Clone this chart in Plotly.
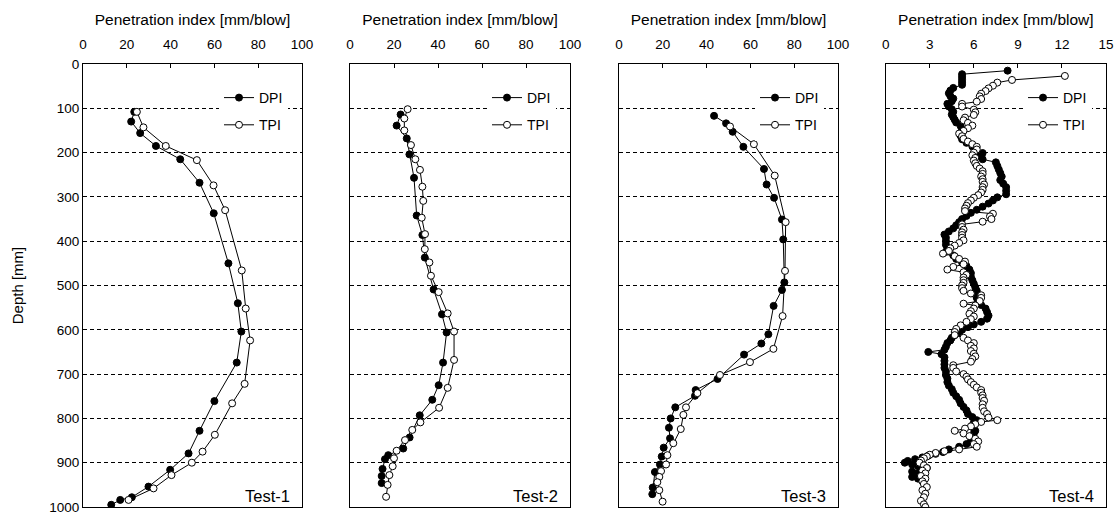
import plotly.graph_objects as go

# ---------------- data ----------------
# Test-1
t1_dpi_depth = [108, 130, 156, 185, 215, 268, 337, 450, 540, 604, 674, 761, 828, 879, 916, 954, 978, 984, 995]
t1_dpi_pi = [23.4, 22.0, 26.1, 33.3, 44.4, 53.2, 59.7, 66.4, 70.7, 72.3, 70.2, 60.0, 53.2, 48.2, 39.8, 29.9, 22.3, 17.0, 12.9]
t1_tpi_depth = [108, 143, 185, 217, 274, 330, 466, 552, 624, 722, 766, 837, 875, 900, 928, 958, 984]
t1_tpi_pi = [24.6, 27.6, 37.8, 52.0, 59.6, 64.9, 72.5, 74.3, 76.3, 73.8, 68.1, 60.2, 54.6, 49.7, 40.4, 32.2, 20.8]

# Test-2
t2_dpi_depth = [114, 139, 168, 204, 257, 342, 386, 437, 509, 565, 606, 674, 725, 758, 793, 843, 868, 883, 892, 914, 930, 946]
t2_dpi_pi = [23.0, 21.2, 25.8, 27.0, 29.1, 30.3, 32.9, 34.0, 38.0, 41.8, 43.9, 42.3, 40.3, 37.4, 31.7, 27.1, 24.2, 17.4, 15.9, 14.8, 14.4, 14.4]
t2_tpi_depth = [102, 123, 150, 183, 215, 239, 277, 309, 347, 384, 418, 448, 478, 515, 563, 604, 668, 731, 776, 809, 826, 849, 873, 890, 908, 928, 950, 977]
t2_tpi_pi = [26.2, 24.7, 24.7, 27.7, 29.7, 31.8, 32.9, 33.3, 32.6, 34.1, 34.0, 36.1, 36.8, 40.3, 44.4, 47.3, 47.3, 44.4, 40.5, 32.0, 28.3, 25.0, 21.2, 20.0, 19.4, 17.9, 17.1, 16.4]

# Test-3
t3_dpi_depth = [117, 134, 153, 187, 237, 272, 302, 351, 396, 493, 510, 546, 610, 631, 656, 711, 736, 749, 775, 800, 821, 845, 866, 886, 904, 921, 956, 971]
t3_dpi_pi = [43.4, 48.9, 51.9, 56.8, 66.2, 67.4, 70.8, 74.4, 75.0, 75.5, 74.4, 70.6, 68.2, 65.0, 57.1, 45.0, 35.0, 34.7, 25.7, 23.6, 22.8, 23.3, 20.4, 19.5, 18.7, 16.4, 15.4, 15.2]
t3_tpi_depth = [141, 181, 252, 357, 467, 569, 643, 673, 702, 743, 775, 792, 824, 856, 883, 904, 919, 932, 944, 962, 988]
t3_tpi_pi = [50.7, 61.6, 71.1, 76.1, 75.8, 74.7, 70.5, 59.8, 46.1, 35.8, 30.6, 29.4, 28.2, 24.8, 22.1, 21.5, 19.2, 18.4, 17.5, 18.4, 19.9]

# Test-4
t4_dpi_depth = [15, 23, 29, 35, 41, 47, 54, 60, 66, 72, 78, 84, 90, 96, 102, 108, 114, 120, 126, 132,
                 140, 148, 155, 162, 170, 178, 186, 194, 201, 208, 215, 222, 230, 238, 246, 254, 262, 270, 278, 286,
                 294, 301, 308, 315, 322, 329, 336, 343, 350, 357, 364, 371, 378, 385, 392, 400, 408, 416, 424, 432,
                 440, 448, 456, 464, 472, 480, 488, 496, 504, 512, 520, 528, 536, 544, 552, 560, 568, 575, 582, 588,
                 594, 600, 606, 612, 618, 624, 630, 638, 645, 650, 655, 662, 670, 678, 686, 694, 702, 710, 718, 726,
                 734, 742, 750, 758, 766, 774, 782, 790, 797, 804, 810, 816, 822, 828, 834, 840, 846, 852, 858, 864,
                 870, 876, 880, 884, 888, 892, 896, 900, 904, 908, 912, 916, 920, 924, 928, 932, 936, 940]
t4_dpi_pi = [8.3, 5.2, 5.2, 5.2, 5.2, 5.2, 4.6, 4.4, 4.3, 4.4, 4.6, 4.5, 4.2, 4.3, 4.5, 4.6, 4.5, 4.6, 4.7, 4.8,
             5.1, 5.2, 5.2, 5.1, 5.2, 5.5, 5.9, 6.1, 6.6, 6.4, 6.6, 7.5, 7.6, 7.7, 7.8, 7.9, 7.8, 8.0, 8.2, 8.2,
             8.2, 7.6, 7.3, 7.0, 6.6, 6.2, 5.8, 5.5, 5.2, 5.0, 4.8, 4.6, 4.3, 4.0, 4.1, 4.1, 4.1, 4.2, 4.1, 4.6,
             4.8, 5.2, 5.5, 5.7, 5.8, 5.8, 5.9, 6.0, 6.1, 6.2, 6.1, 6.2, 6.3, 6.5, 6.8, 6.9, 7.0, 6.9, 6.5, 6.0,
             5.6, 5.2, 5.0, 4.7, 4.5, 4.4, 4.2, 4.1, 4.0, 2.9, 3.8, 4.0, 4.0, 4.0, 4.0, 4.1, 4.1, 4.2, 4.2, 4.3,
             4.5, 4.6, 4.8, 5.0, 5.1, 5.3, 5.5, 5.6, 5.9, 6.2, 6.0, 5.9, 6.0, 6.1, 6.0, 5.9, 6.0, 5.8, 5.5, 5.0,
             4.3, 3.9, 3.4, 2.9, 2.5, 2.0, 1.5, 1.3, 1.8, 2.2, 2.8, 2.4, 1.8, 2.2, 2.3, 1.8, 2.2, 2.5]
t4_tpi_depth = [27, 36, 42, 49, 55, 61, 67, 73, 79, 85, 90, 96, 103, 109, 115, 121, 127, 133, 139, 145,
                151, 157, 163, 169, 175, 181, 187, 193, 200, 206, 212, 218, 224, 230, 236, 242, 248, 254, 260, 266,
                272, 278, 284, 290, 296, 302, 308, 314, 320, 326, 332, 338, 344, 350, 356, 362, 368, 374, 380, 386,
                392, 398, 404, 410, 416, 422, 428, 434, 440, 446, 452, 458, 464, 470, 476, 482, 488, 494, 500, 506,
                512, 518, 522, 528, 535, 541, 545, 552, 558, 564, 570, 576, 582, 590, 598, 605, 612, 618, 624, 630,
                636, 642, 648, 654, 660, 666, 672, 680, 686, 694, 700, 706, 712, 718, 724, 730, 736, 742, 748, 754,
                760, 768, 776, 784, 790, 798, 804, 808, 813, 818, 823, 828, 834, 840, 846, 852, 858, 864, 870, 874,
                878, 882, 886, 890, 895, 900, 906, 912, 918, 924, 930, 936, 942, 948, 955, 962, 970, 978, 986, 994, 1000]
t4_tpi_pi = [12.2, 8.6, 7.6, 7.3, 7.0, 6.8, 6.5, 6.4, 6.5, 6.2, 5.2, 5.2, 6.0, 6.1, 6.0, 5.4, 5.3, 5.6, 5.9, 5.6,
             5.3, 5.0, 5.2, 5.3, 5.6, 5.9, 6.2, 6.2, 6.0, 5.9, 6.1, 6.0, 6.1, 6.2, 6.4, 6.6, 6.6, 6.5, 6.6, 6.6,
             6.7, 6.6, 6.6, 6.5, 6.3, 6.0, 5.8, 5.6, 5.5, 5.4, 5.4, 7.3, 7.1, 7.2, 6.6, 5.2, 5.2, 5.3, 5.2, 5.2,
             5.2, 5.3, 5.0, 4.7, 4.4, 4.3, 3.9, 4.7, 5.0, 5.4, 5.3, 4.6, 4.2, 5.3, 5.5, 5.3, 5.3, 5.3, 5.2, 5.2,
             5.3, 5.8, 6.5, 6.5, 6.4, 5.3, 6.1, 6.0, 5.8, 5.7, 6.0, 5.8, 5.5, 5.1, 4.8, 4.7, 4.7, 5.3, 5.6, 6.0,
             5.8, 6.0, 5.8, 6.0, 6.1, 5.9, 5.8, 4.6, 4.6, 4.8, 5.3, 5.5, 5.6, 5.8, 6.0, 6.2, 6.5, 6.5, 6.6, 6.6,
             6.7, 6.6, 6.6, 6.7, 6.9, 7.0, 7.6, 6.5, 6.1, 5.8, 5.4, 4.7, 5.3, 5.7, 6.1, 6.3, 6.0, 6.2, 5.0, 4.0,
             3.4, 3.0, 2.8, 2.6, 2.4, 2.3, 2.6, 2.8, 2.5, 2.7, 2.4, 2.7, 2.5, 2.6, 2.8, 2.5, 2.7, 2.6, 2.4, 2.6, 2.7]

tests = [
    ("Test-1", t1_dpi_depth, t1_dpi_pi, t1_tpi_depth, t1_tpi_pi),
    ("Test-2", t2_dpi_depth, t2_dpi_pi, t2_tpi_depth, t2_tpi_pi),
    ("Test-3", t3_dpi_depth, t3_dpi_pi, t3_tpi_depth, t3_tpi_pi),
    ("Test-4", t4_dpi_depth, t4_dpi_pi, t4_tpi_depth, t4_tpi_pi),
]
x_ranges = [[0, 100], [0, 100], [0, 100], [0, 15]]
x_dticks = [20, 20, 20, 3]
depth_ticks = [0, 100, 200, 300, 400, 500, 600, 700, 800, 900, 1000]

# ---------------- layout geometry ----------------
W, H = 1116, 513
ML, MR, MT, MB = 83, 10, 64, 6
PW = W - ML - MR
PH = H - MT - MB
panel_px = [(83, 302), (350, 570), (619, 838), (885.7, 1106)]
domains = [[(a - ML) / PW, min(1.0, (b - ML) / PW)] for a, b in panel_px]

FONT = "Liberation Sans, Arial, sans-serif"

fig = go.Figure()
for i, (name, dd, dv, td, tv) in enumerate(tests):
    sfx = "" if i == 0 else str(i + 1)
    lg = "legend" if i == 0 else f"legend{i + 1}"
    fig.add_trace(go.Scatter(
        x=dv, y=dd, mode="lines+markers", name="DPI",
        xaxis="x" + sfx, yaxis="y" + sfx, legend=lg, legendgroup=f"d{i}",
        line=dict(color="black", width=1),
        marker=dict(symbol="circle", size=7, color="black", line=dict(color="black", width=1)),
    ))
    fig.add_trace(go.Scatter(
        x=tv, y=td, mode="lines+markers", name="TPI",
        xaxis="x" + sfx, yaxis="y" + sfx, legend=lg, legendgroup=f"t{i}",
        line=dict(color="black", width=1),
        marker=dict(symbol="circle", size=7, color="white", line=dict(color="black", width=1)),
    ))

layout = dict(
    width=W, height=H,
    margin=dict(l=ML, r=MR, t=MT, b=MB),
    paper_bgcolor="white", plot_bgcolor="white",
    font=dict(family=FONT, size=13, color="black"),
    showlegend=True,
)

for i in range(4):
    sfx = "" if i == 0 else str(i + 1)
    layout["xaxis" + sfx] = dict(
        domain=domains[i], anchor="y" + sfx, side="top",
        range=x_ranges[i], dtick=x_dticks[i], tick0=0,
        showline=True, linecolor="black", linewidth=1, mirror=True,
        ticks="inside", ticklen=4, tickcolor="black",
        showgrid=False, zeroline=False,
        ticklabelstandoff=9,
        title=dict(text="Penetration index [mm/blow]", font=dict(size=15.5), standoff=7),
        tickfont=dict(size=13.5), automargin="top",
    )
    layout["yaxis" + sfx] = dict(
        domain=[0, 1], anchor="x" + sfx,
        range=[1000, 0], tickvals=depth_ticks,
        showline=True, linecolor="black", linewidth=1, mirror=True,
        ticks="", showticklabels=(i == 0), ticklabeloverflow="allow",
        showgrid=True, gridcolor="black", gridwidth=1, griddash="4px,3px",
        zeroline=False, automargin=("left" if i == 0 else False),
        title=dict(text="Depth [mm]" if i == 0 else "", font=dict(size=15), standoff=22),
        tickfont=dict(size=13.5),
    )
    lg = "legend" if i == 0 else f"legend{i + 1}"
    lx_px = panel_px[i][1] - 83
    layout[lg] = dict(
        x=(lx_px - ML) / PW, y=1 - (82 - MT) / PH, xanchor="left", yanchor="top",
        bgcolor="white", borderwidth=0, font=dict(size=14),
        tracegroupgap=6, itemwidth=30,
    )

fig.update_layout(**layout)

for i, (name, *_rest) in enumerate(tests):
    sfx = "" if i == 0 else str(i + 1)
    fig.add_annotation(
        text=name, xref=("x" + sfx + " domain"), yref=("y" + sfx + " domain"),
        x=1, y=0, xanchor="right", yanchor="bottom", xshift=-10, yshift=0,
        showarrow=False, font=dict(size=16.5),
    )

fig.write_html("out.html", config={"displayModeBar": False},
               post_script="document.body.style.margin='0px';document.body.style.overflow='hidden';")
